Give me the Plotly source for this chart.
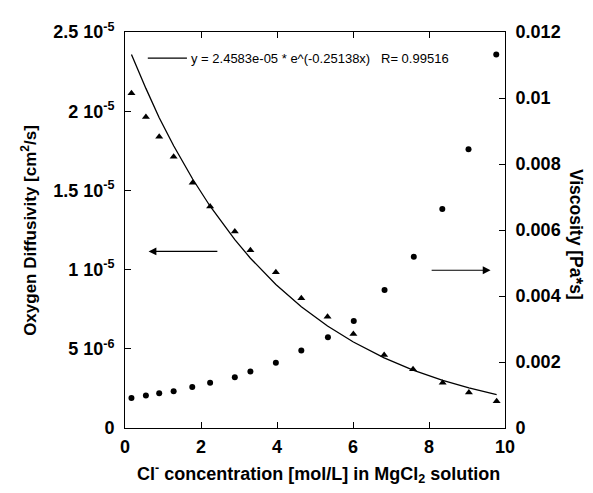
import plotly.graph_objects as go

# Diffusivity (triangles)
conc_diff = [0.17, 0.55, 0.90, 1.28, 1.78, 2.24, 2.89, 3.30, 3.97, 4.64, 5.33, 6.01, 6.82, 7.58, 8.36, 9.05, 9.78]
diffusivity = [2.113e-5, 1.963e-5, 1.838e-5, 1.712e-5, 1.548e-5, 1.398e-5, 1.241e-5, 1.122e-5, 0.984e-5,
               0.819e-5, 0.702e-5, 0.593e-5, 0.461e-5, 0.371e-5, 0.286e-5, 0.224e-5, 0.169e-5]

# Fit curve values
fit_x = [0.17, 0.55, 0.90, 1.28, 1.78, 2.24, 2.89, 3.30, 3.97, 4.64, 5.33, 6.01, 6.82, 7.58, 8.36, 9.05, 9.78]
fit_y = [2.358e-5, 2.144e-5, 1.959e-5, 1.782e-5, 1.572e-5, 1.400e-5, 1.189e-5, 1.072e-5, 0.906e-5,
         0.766e-5, 0.644e-5, 0.543e-5, 0.443e-5, 0.366e-5, 0.301e-5, 0.253e-5, 0.210e-5]

# Viscosity (circles)
conc_visc = [0.17, 0.55, 0.90, 1.28, 1.77, 2.24, 2.89, 3.30, 3.97, 4.64, 5.34, 6.02, 6.83, 7.60, 8.35, 9.04, 9.77]
viscosity = [0.000911, 0.000983, 0.00105, 0.00111, 0.00124, 0.00137, 0.00154, 0.00171, 0.00198,
             0.00235, 0.00275, 0.00324, 0.00418, 0.00519, 0.00664, 0.00845, 0.01132]

x_ticks = [0, 2, 4, 6, 8, 10]
y1_ticks = [0, 5e-6, 1e-5, 1.5e-5, 2e-5, 2.5e-5]
y1_labels = ["0", "5 10<sup>-6</sup>", "1 10<sup>-5</sup>", "1.5 10<sup>-5</sup>", "2 10<sup>-5</sup>", "2.5 10<sup>-5</sup>"]
y2_ticks = [0, 0.002, 0.004, 0.006, 0.008, 0.01, 0.012]
y2_labels = ["0", "0.002", "0.004", "0.006", "0.008", "0.01", "0.012"]

FONT = "Liberation Sans"
fig = go.Figure()

fig.add_trace(go.Scatter(x=fit_x, y=fit_y, mode="lines", line=dict(color="black", width=1.3),
                         showlegend=False, yaxis="y"))
fig.add_trace(go.Scatter(x=conc_diff, y=diffusivity, mode="markers",
                         marker=dict(symbol="triangle-up", size=7, color="black"),
                         showlegend=False, yaxis="y"))
fig.add_trace(go.Scatter(x=conc_visc, y=viscosity, mode="markers",
                         marker=dict(symbol="circle", size=6, color="black"),
                         showlegend=False, yaxis="y2"))

axis_common = dict(showgrid=False, zeroline=False, linecolor="black", linewidth=1,
                   ticks="inside", ticklen=6, tickcolor="black", tickwidth=1,
                   tickfont=dict(family=FONT, size=18, color="black", weight="bold"))

fig.update_layout(
    width=585, height=485,
    margin=dict(l=117, r=88, t=22, b=65),
    plot_bgcolor="white", paper_bgcolor="white",
    xaxis=dict(range=[0, 10], tickvals=x_ticks, mirror="ticks", showline=True,
               ticklabelstandoff=2, **axis_common),
    yaxis=dict(range=[0, 2.5e-5], tickvals=y1_ticks, ticktext=y1_labels, showline=True,
               ticklabelstandoff=6, **axis_common),
    yaxis2=dict(range=[0, 0.012], tickvals=y2_ticks, ticktext=y2_labels, overlaying="y",
                side="right", showline=True, ticklabelstandoff=6, **axis_common),
    annotations=[
        dict(text="Oxygen Diffusivity [cm<sup>2</sup>/s]", xref="paper", yref="paper",
             x=-0.253, y=0.5, xanchor="center", yanchor="middle", textangle=-90, showarrow=False,
             font=dict(family=FONT, size=17, color="black", weight="bold")),
        dict(text="Viscosity [Pa*s]", xref="paper", yref="paper",
             x=1.187, y=0.49, xanchor="center", yanchor="middle", textangle=90, showarrow=False,
             font=dict(family=FONT, size=17.5, color="black", weight="bold")),
        dict(text="Cl<sup>-</sup> concentration [mol/L] in MgCl<sub>2</sub> solution",
             xref="paper", yref="paper", x=0.51, y=-0.115, xanchor="center", yanchor="middle",
             showarrow=False,
             font=dict(family=FONT, size=18, color="black", weight="bold")),
        dict(text="y = 2.4583e-05 * e^(-0.25138x)   R= 0.99516", xref="x", yref="paper",
             x=1.68, y=0.934, xanchor="left", yanchor="middle", showarrow=False,
             font=dict(family=FONT, size=13, color="black")),
        dict(x=0.62, y=1.115e-5, ax=2.47, ay=1.115e-5, xref="x", yref="y", axref="x", ayref="y",
             showarrow=True, arrowhead=2, arrowsize=1.3, arrowwidth=1.2, arrowcolor="black", text=""),
        dict(x=9.62, y=0.996e-5, ax=8.03, ay=0.996e-5, xref="x", yref="y", axref="x", ayref="y",
             showarrow=True, arrowhead=2, arrowsize=1.3, arrowwidth=1.2, arrowcolor="black", text=""),
    ],
    shapes=[
        dict(type="line", xref="x", yref="paper", x0=0.6, x1=1.63, y0=0.934, y1=0.934,
             line=dict(color="black", width=1.2)),
    ],
)

fig.write_html("out.html")
